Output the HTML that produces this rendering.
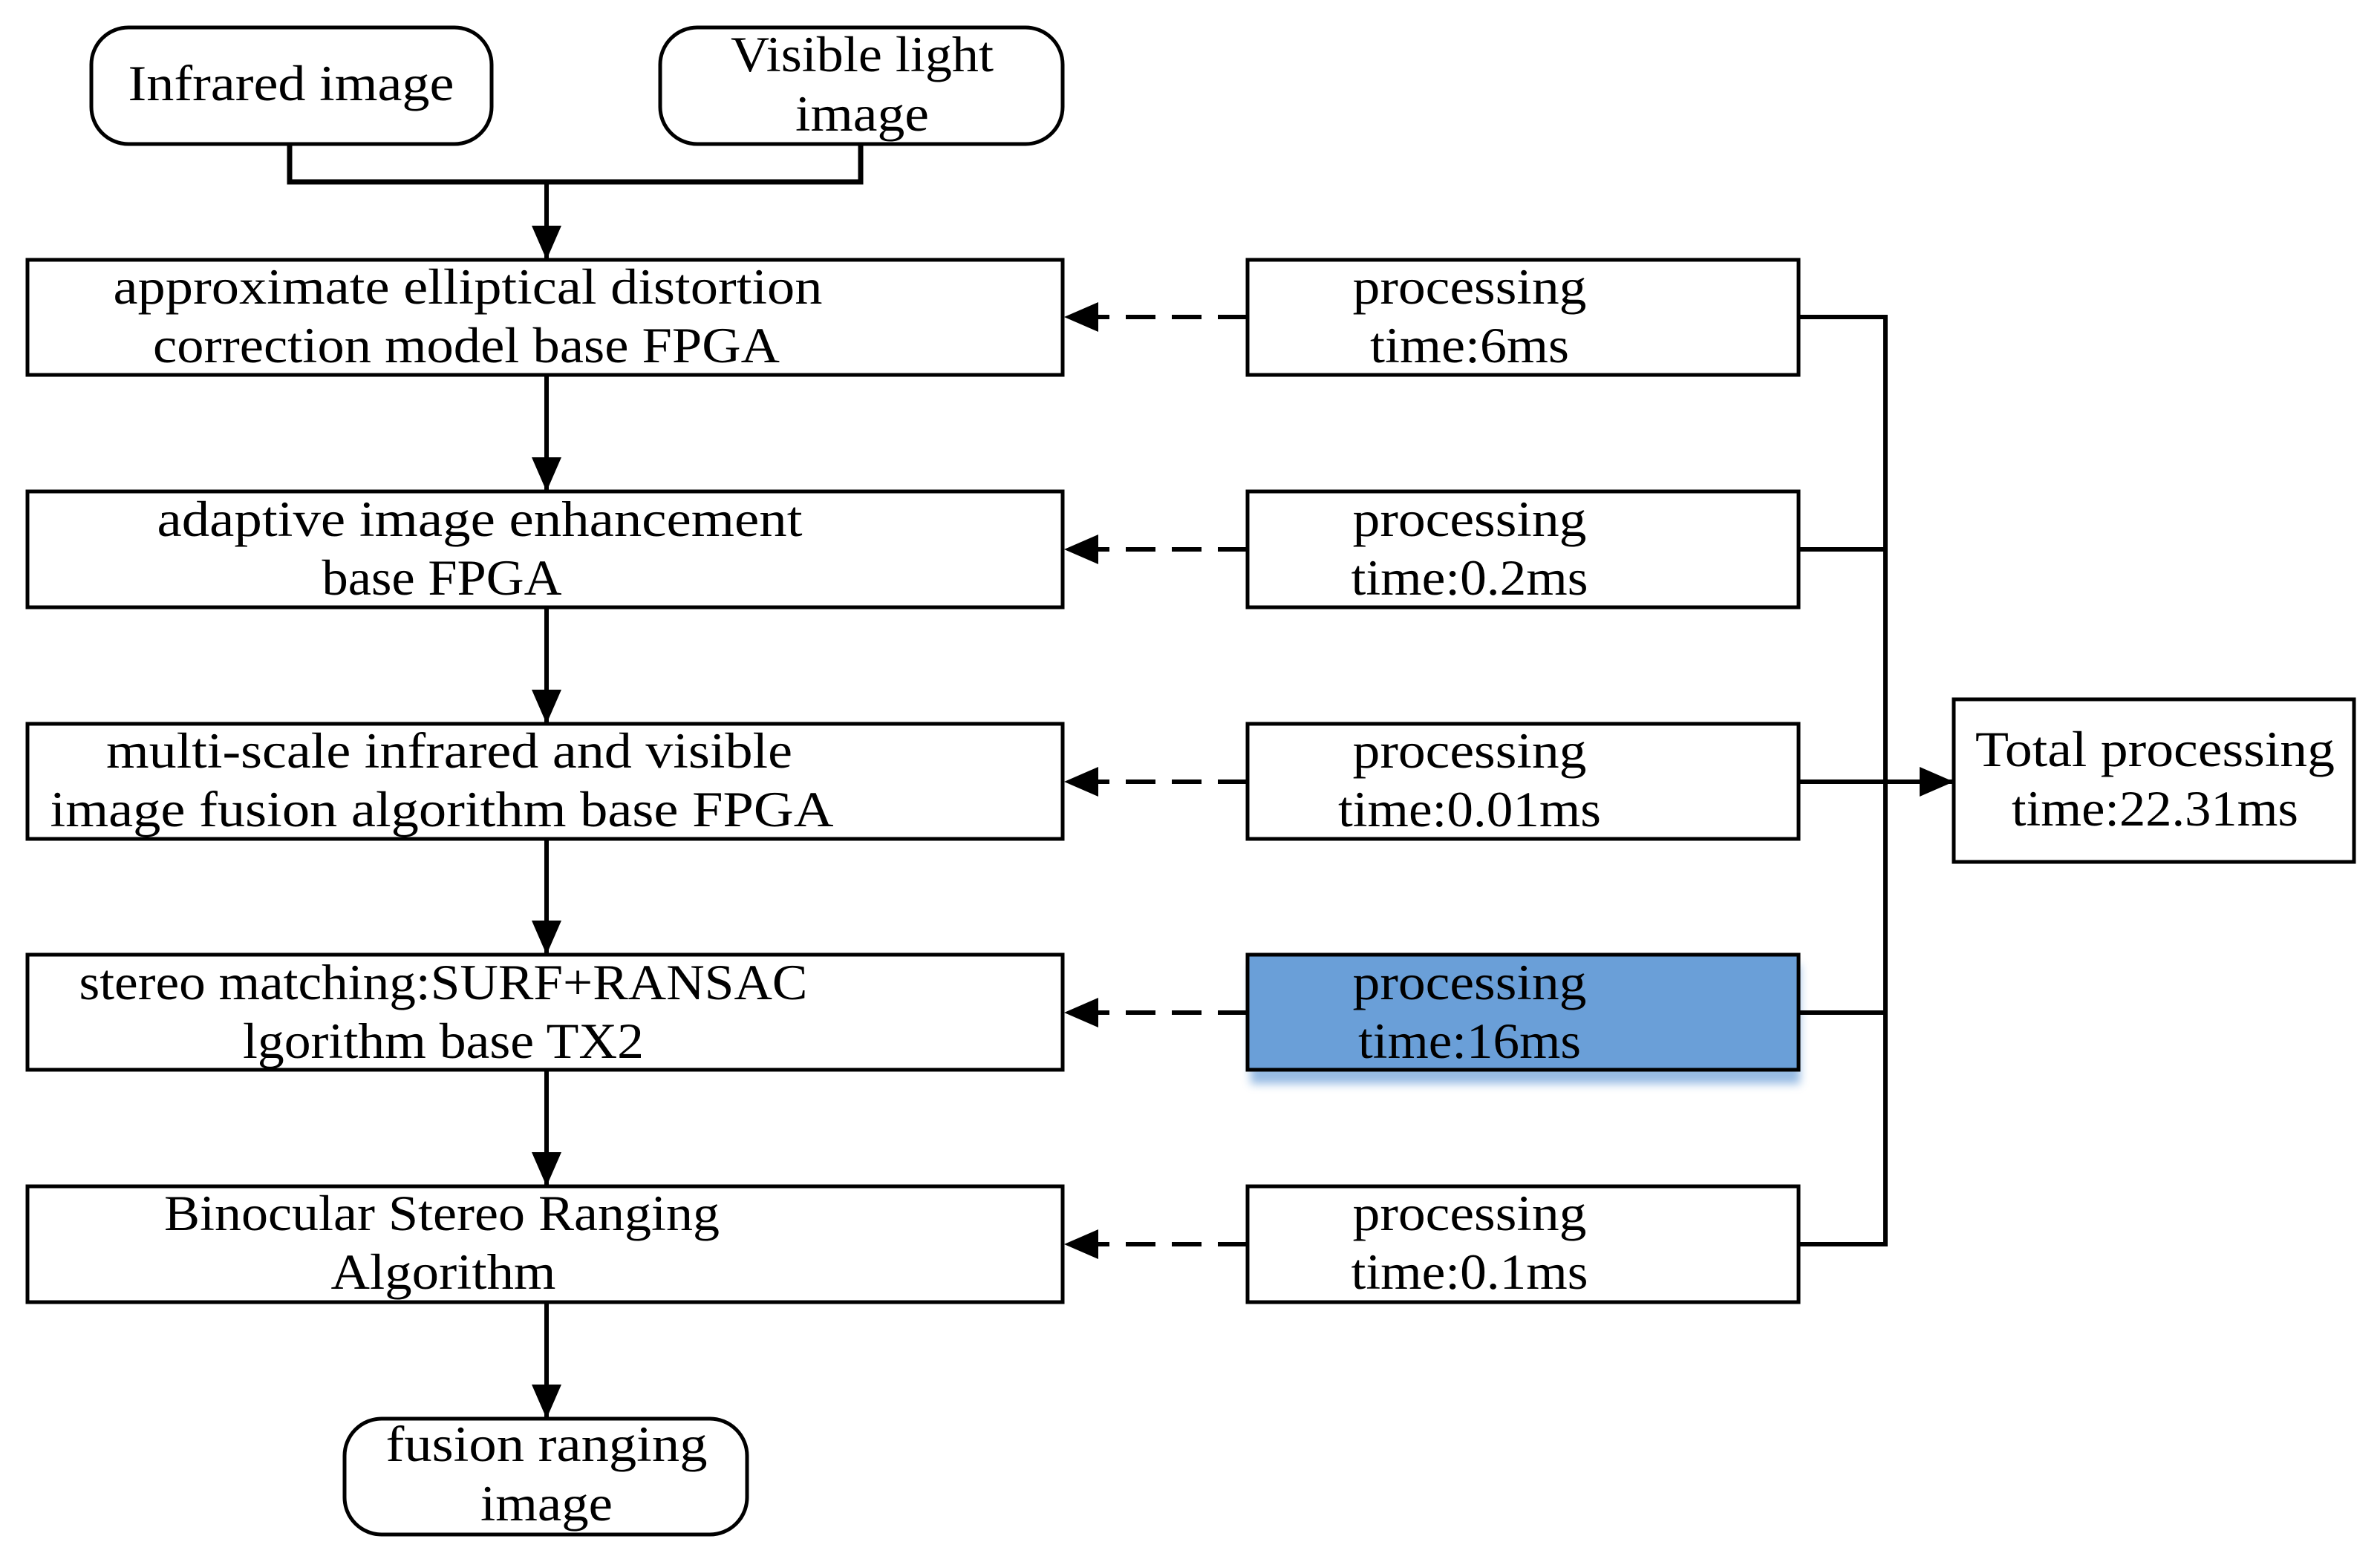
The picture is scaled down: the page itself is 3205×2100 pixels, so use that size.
<!DOCTYPE html>
<html><head><meta charset="utf-8"><style>html,body{margin:0;padding:0;background:#fff}</style></head>
<body>
<svg width="3205" height="2095" viewBox="0 0 3205 2095" xmlns="http://www.w3.org/2000/svg" font-family="'Liberation Serif', serif" font-size="68" fill="#000">
<defs>
<marker id="a" markerWidth="46" markerHeight="40" refX="10" refY="5" orient="auto" markerUnits="userSpaceOnUse" viewBox="0 0 10 10" preserveAspectRatio="none"><path d="M0,0 L10,5 L0,10 z" fill="#000"/></marker>
<filter id="g" x="-10%" y="-10%" width="120%" height="130%"><feGaussianBlur stdDeviation="6"/></filter>
</defs>
<g stroke="#000" stroke-width="5" fill="none">
<rect x="123" y="37" width="539" height="157" rx="50"/>
<rect x="889" y="37" width="542" height="157" rx="50"/>
<rect x="464" y="1911" width="542" height="156" rx="50"/>
<polyline points="390,194 390,245 1159,245 1159,194" stroke-width="7"/>
<rect x="37" y="350" width="1394" height="155"/>
<rect x="37" y="662" width="1394" height="156"/>
<rect x="37" y="975" width="1394" height="155"/>
<rect x="37" y="1286" width="1394" height="155"/>
<rect x="37" y="1598" width="1394" height="156"/>
<rect x="1680" y="350" width="742" height="155"/>
<rect x="1680" y="662" width="742" height="156"/>
<rect x="1680" y="975" width="742" height="155"/>
<rect x="1680" y="1598" width="742" height="156"/>
<rect x="2631" y="942" width="539" height="219"/>
</g>
<rect x="1684" y="1300" width="740" height="160" fill="#6a9fd8" filter="url(#g)" opacity="0.7"/>
<rect x="1680" y="1286" width="742" height="155" fill="#6a9fd8" stroke="#000" stroke-width="5"/>
<g stroke="#000" stroke-width="6" fill="none">
<line x1="736" y1="245" x2="736" y2="350" marker-end="url(#a)"/>
<line x1="736" y1="505" x2="736" y2="662" marker-end="url(#a)"/>
<line x1="736" y1="818" x2="736" y2="975" marker-end="url(#a)"/>
<line x1="736" y1="1130" x2="736" y2="1286" marker-end="url(#a)"/>
<line x1="736" y1="1441" x2="736" y2="1598" marker-end="url(#a)"/>
<line x1="736" y1="1754" x2="736" y2="1911" marker-end="url(#a)"/>
<g stroke-dasharray="40 22">
<line x1="1680" y1="427" x2="1433" y2="427" marker-end="url(#a)"/>
<line x1="1680" y1="740" x2="1433" y2="740" marker-end="url(#a)"/>
<line x1="1680" y1="1053" x2="1433" y2="1053" marker-end="url(#a)"/>
<line x1="1680" y1="1364" x2="1433" y2="1364" marker-end="url(#a)"/>
<line x1="1680" y1="1676" x2="1433" y2="1676" marker-end="url(#a)"/>
</g>
<polyline points="2422,427 2539,427 2539,1676 2422,1676"/>
<line x1="2422" y1="740" x2="2539" y2="740"/>
<line x1="2422" y1="1364" x2="2539" y2="1364"/>
<line x1="2422" y1="1053" x2="2631" y2="1053" marker-end="url(#a)"/>
</g>
<g text-anchor="middle" lengthAdjust="spacingAndGlyphs">
<text x="392" y="135" textLength="439" lengthAdjust="spacingAndGlyphs">Infrared image</text>
<text x="1161" y="96" textLength="354" lengthAdjust="spacingAndGlyphs">Visible light</text><text x="1161" y="176" textLength="180" lengthAdjust="spacingAndGlyphs">image</text>
<text x="630" y="409" textLength="955" lengthAdjust="spacingAndGlyphs">approximate elliptical distortion</text><text x="628" y="488" textLength="844" lengthAdjust="spacingAndGlyphs">correction model base FPGA</text>
<text x="646" y="722" textLength="869" lengthAdjust="spacingAndGlyphs">adaptive image enhancement</text><text x="595" y="801" textLength="323" lengthAdjust="spacingAndGlyphs">base FPGA</text>
<text x="605" y="1034" textLength="924" lengthAdjust="spacingAndGlyphs">multi-scale infrared and visible</text><text x="595" y="1113" textLength="1055" lengthAdjust="spacingAndGlyphs">image fusion algorithm  base FPGA</text>
<text x="597" y="1346" textLength="981" lengthAdjust="spacingAndGlyphs">stereo matching:SURF+RANSAC</text><text x="597" y="1425" textLength="540" lengthAdjust="spacingAndGlyphs">lgorithm base TX2</text>
<text x="595" y="1657" textLength="748" lengthAdjust="spacingAndGlyphs">Binocular Stereo Ranging</text><text x="597" y="1736" textLength="303" lengthAdjust="spacingAndGlyphs">Algorithm</text>
<text x="736" y="1968" textLength="433" lengthAdjust="spacingAndGlyphs">fusion ranging</text><text x="736" y="2048" textLength="178" lengthAdjust="spacingAndGlyphs">image</text>
<text x="1979" y="409" textLength="315" lengthAdjust="spacingAndGlyphs">processing</text><text x="1979" y="488" textLength="268" lengthAdjust="spacingAndGlyphs">time:6ms</text>
<text x="1979" y="722" textLength="315" lengthAdjust="spacingAndGlyphs">processing</text><text x="1979" y="801" textLength="319" lengthAdjust="spacingAndGlyphs">time:0.2ms</text>
<text x="1979" y="1034" textLength="315" lengthAdjust="spacingAndGlyphs">processing</text><text x="1979" y="1113" textLength="354" lengthAdjust="spacingAndGlyphs">time:0.01ms</text>
<text x="1979" y="1346" textLength="315" lengthAdjust="spacingAndGlyphs">processing</text><text x="1979" y="1425" textLength="300" lengthAdjust="spacingAndGlyphs">time:16ms</text>
<text x="1979" y="1657" textLength="315" lengthAdjust="spacingAndGlyphs">processing</text><text x="1979" y="1736" textLength="319" lengthAdjust="spacingAndGlyphs">time:0.1ms</text>
<text x="2902" y="1032" textLength="484" lengthAdjust="spacingAndGlyphs">Total processing</text><text x="2902" y="1112" textLength="386" lengthAdjust="spacingAndGlyphs">time:22.31ms</text>
</g>
</svg>
</body></html>
